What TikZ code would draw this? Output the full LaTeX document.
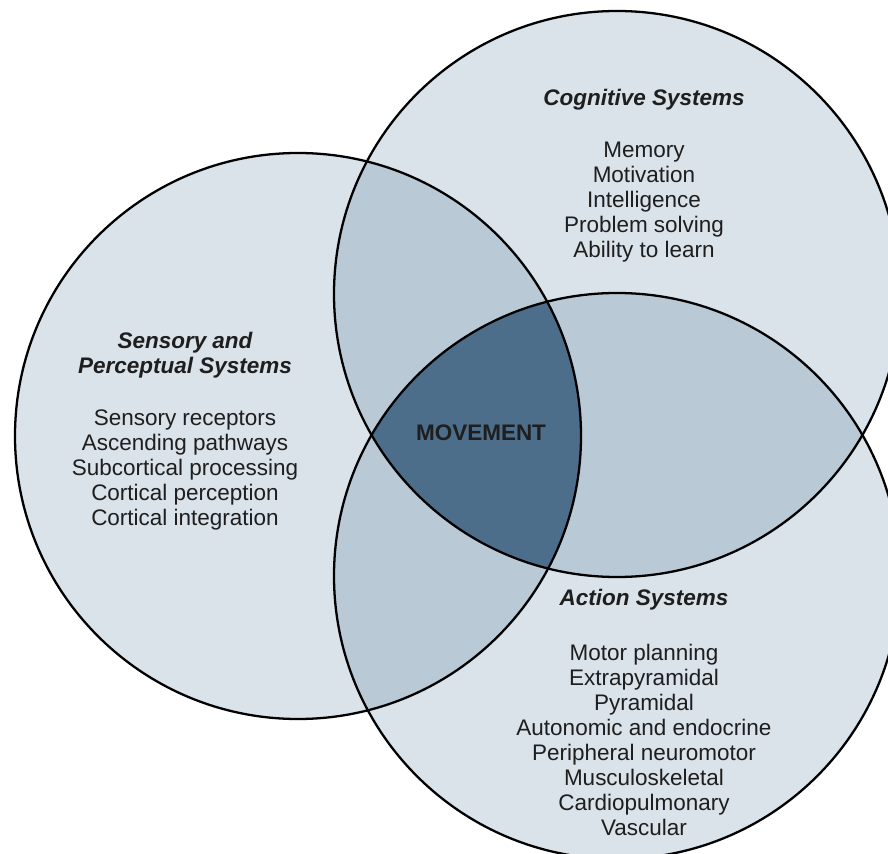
\documentclass[tikz,border=0pt]{standalone}
\usepackage{fontspec}
\setmainfont{Liberation Sans}
\usepackage{tikz}

\definecolor{paleFill}{HTML}{DAE2EA}
\definecolor{pairFill}{HTML}{B9C9D6}
\definecolor{coreFill}{HTML}{4D6E8B}
\definecolor{textGray}{HTML}{1E1E1E}

\tikzset{
    systemTitle/.style={font=\fontsize{12.8pt}{14.3pt}\selectfont\bfseries\itshape,
        text=textGray, align=center, inner sep=0pt},
    systemList/.style={font=\fontsize{12.8pt}{14.3pt}\selectfont,
        text=textGray, align=center, inner sep=0pt},
}

\begin{document}
\begin{tikzpicture}[x=0.02cm, y=-0.02cm]
        \pgfmathsetmacro{\radius}{283}
        \useasboundingbox (0,0) rectangle (888,854);

        \coordinate (sensory) at (298,436);
        \coordinate (cognitive) at (617,294);
        \coordinate (action) at (617,576);

        % single regions
        \fill[color=paleFill] (sensory) circle [radius=\radius];
        \fill[color=paleFill] (cognitive) circle [radius=\radius];
        \fill[color=paleFill] (action) circle [radius=\radius];

        % overlaps
        \begin{scope}
            \clip (sensory) circle [radius=\radius];
            \fill[color=pairFill] (cognitive) circle [radius=\radius];
            \fill[color=pairFill] (action) circle [radius=\radius];
        \end{scope}
        \begin{scope}
            \clip (cognitive) circle [radius=\radius];
            \fill[color=pairFill] (action) circle [radius=\radius];
            \clip (action) circle [radius=\radius];
            \fill[color=coreFill] (sensory) circle [radius=\radius];
        \end{scope}

        \draw[line width=1.3pt] (sensory) circle [radius=\radius];
        \draw[line width=1.3pt] (cognitive) circle [radius=\radius];
        \draw[line width=1.3pt] (action) circle [radius=\radius];

        \node[systemTitle] (cogTitle) at (644,100) {Cognitive Systems};
        \node[systemList] (cogList) at (644,202)
            {Memory\\Motivation\\Intelligence\\Problem solving\\Ability to learn};

        \node[systemTitle] (sensTitle) at (185,355) {Sensory and\\Perceptual Systems};
        \node[systemList] (sensList) at (185,470)
            {Sensory receptors\\Ascending pathways\\Subcortical processing\\Cortical perception\\Cortical integration};

        \node[systemTitle, font=\fontsize{12.8pt}{14.3pt}\selectfont\bfseries] (movement) at (481,433) {MOVEMENT};

        \node[systemTitle] (actTitle) at (644,600) {Action Systems};
        \node[systemList] (actList) at (644,740)
            {Motor planning\\Extrapyramidal\\Pyramidal\\Autonomic and endocrine\\Peripheral neuromotor\\Musculoskeletal\\Cardiopulmonary\\Vascular};
    \end{tikzpicture}
\end{document}
